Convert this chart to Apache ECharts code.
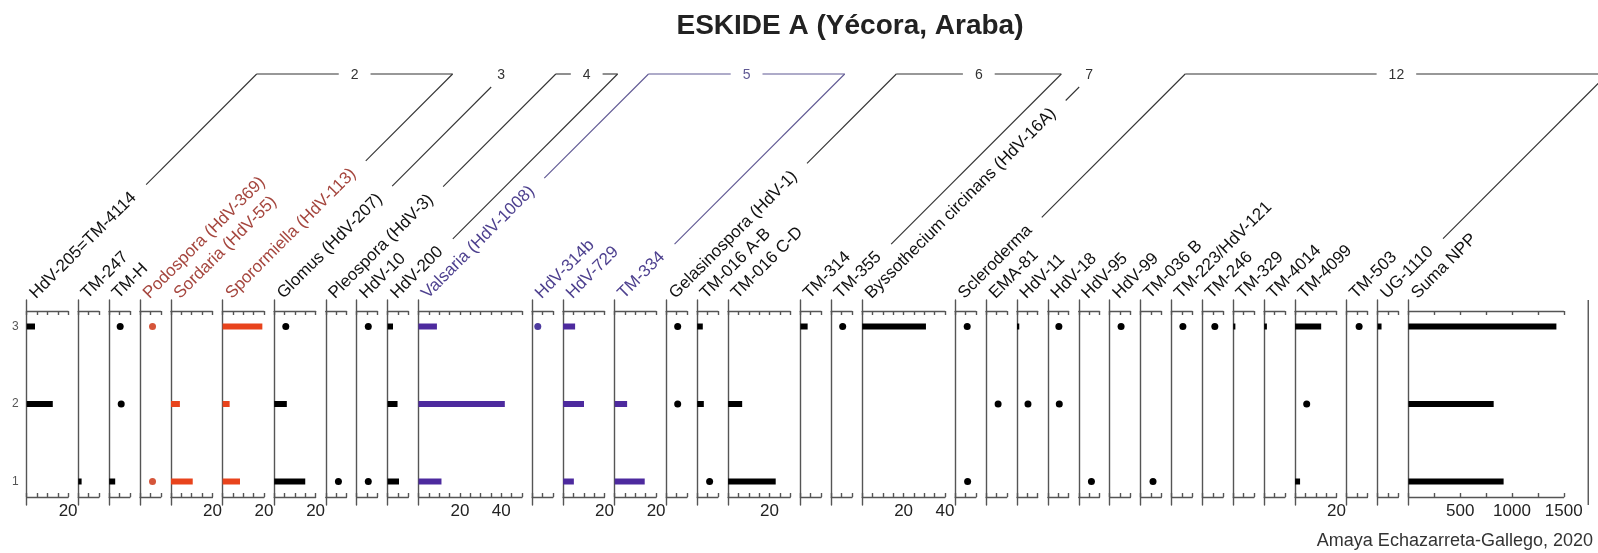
<!DOCTYPE html>
<html>
<head>
<meta charset="utf-8">
<title>ESKIDE A</title>
<script src="https://cdn.jsdelivr.net/npm/echarts@6/dist/echarts.min.js"></script>
<style>
html, body { margin: 0; padding: 0; background: #fff; }
#main { width: 1598px; height: 553px; }
</style>
</head>
<body>
<div id="main"></div>
<script>
// tipos (columnas del diagrama)
var taxa = ['HdV-205=TM-4114', 'TM-247', 'TM-H', 'Podospora (HdV-369)', 'Sordaria (HdV-55)',
    'Sporormiella (HdV-113)', 'Glomus (HdV-207)', 'Pleospora (HdV-3)', 'HdV-10', 'HdV-200',
    'Valsaria (HdV-1008)', 'HdV-314b', 'HdV-729', 'TM-334', 'Gelasinospora (HdV-1)',
    'TM-016 A-B', 'TM-016 C-D', 'TM-314', 'TM-355', 'Byssothecium circinans (HdV-16A)',
    'Scleroderma', 'EMA-81', 'HdV-11', 'HdV-18', 'HdV-95',
    'HdV-99', 'TM-036 B', 'TM-223/HdV-121', 'TM-246', 'TM-329',
    'TM-4014', 'TM-4099', 'TM-503', 'UG-1110', 'Suma NPP'];
// maximo de cada eje
var axisMax = [20, 10, 10, 10, 20,
    20, 20, 10, 10, 10,
    50, 10, 20, 20, 10,
    10, 30, 10, 10, 40,
    10, 10, 10, 10, 10,
    10, 10, 10, 10, 10,
    10, 20, 10, 10, 1500];
var samples = [1, 2, 3];
// barras por muestra (null = sin barra)
var bars1 = [null, 1.6, 2.9, null, 10.5,
    8.4, 15, null, null, 5.5,
    11.1, null, 5.2, 14.5, null,
    null, 23, null, null, null,
    null, null, null, null, null,
    null, null, null, null, null,
    null, 2.4, null, null, 919];
var bars2 = [12.6, null, null, null, 4.3,
    3.4, 6.1, null, null, 4.8,
    41.7, null, 10.1, 6, null,
    3.2, 6.8, null, null, null,
    null, null, null, null, null,
    null, null, null, null, null,
    null, null, null, null, 823];
var bars3 = [4, null, null, null, null,
    19.2, null, null, null, 2.6,
    8.9, null, 5.8, null, null,
    2.7, null, 3.5, null, 30.8,
    null, null, 1.1, null, null,
    null, null, null, null, 1,
    1.3, 12.6, null, 1.9, 1429];
// puntos por muestra
var dots1 = [null, null, null, 6, null,
    null, null, 6.1, 5.6, null,
    null, null, null, null, null,
    6, null, null, null, null,
    6, null, null, null, 6.1,
    null, 6, null, null, null,
    null, null, null, null, null];
var dots2 = [null, null, 5.8, null, null,
    null, null, null, null, null,
    null, null, null, null, 5.5,
    null, null, null, null, null,
    null, 5.8, 5.3, 5.5, null,
    null, null, null, null, null,
    null, 5.6, null, null, null];
var dots3 = [null, null, 5.3, 6, null,
    null, 5.6, null, 5.6, null,
    null, 2.7, null, null, 5.5,
    null, null, null, 5.5, null,
    5.8, null, null, 5.3, null,
    5.5, null, 5.5, 6, null,
    null, null, 6, null, null];
// grupos: [numero, primer tipo, ultimo tipo]
var groups = [['2', 0, 5], ['3', 6, 6], ['4', 7, 9], ['5', 10, 13], ['6', 14, 18], ['7', 19, 19], ['12', 20, 33]];

// colores
var tone = ['k', 'k', 'k', 'r', 'r', 'r', 'k', 'k', 'k', 'k', 'p', 'p', 'p', 'p', 'k', 'k', 'k', 'k', 'k', 'k',
    'k', 'k', 'k', 'k', 'k', 'k', 'k', 'k', 'k', 'k', 'k', 'k', 'k', 'k', 'k'];
var barColor = {k: '#000000', r: '#e8431c', p: '#4d2a9e'};
var dotColor = {k: '#000000', r: '#d5553a', p: '#4d3a9e'};
var textColor = {k: '#111111', r: '#a5463e', p: '#4e418f'};
var FONT = '"Liberation Sans", Arial, sans-serif';

// disposicion
var X0 = 26.7, PX = 2.07, GAP = 10.2, TOP = 300, H = 205;
var Y_MIN = 0.8 - 8 / 77.5, Y_MAX = 3.2 + 11 / 77.5;
var lefts = [], widths = [];
var xx = X0;
for (var i = 0; i < taxa.length; i++) {
    var w = axisMax[i] * (i === taxa.length - 1 ? PX / 20 : PX);
    lefts.push(xx);
    widths.push(w);
    xx += w + GAP;
}

var lineStyle = {color: '#555', width: 1.4};

function labelFmt(step) {
    return function (v) {
        return (v !== 0 && v % step === 0) ? String(v) : '';
    };
}

function drawBar(params, api) {
    var p0 = api.coord([0, api.value(1)]);
    var p1 = api.coord([api.value(0), api.value(1)]);
    return {
        type: 'rect',
        shape: {x: p0[0], y: p0[1] - 3, width: p1[0] - p0[0], height: 6},
        style: {fill: api.visual('color')}
    };
}

var grid = [], xAxis = [], yAxis = [], series = [];
var rowBars = [bars1, bars2, bars3], rowDots = [dots1, dots2, dots3];
for (var i = 0; i < taxa.length; i++) {
    var big = axisMax[i] > 100;
    grid.push({left: lefts[i], top: TOP, width: widths[i], height: H, containLabel: false, outerBoundsMode: 'none'});
    xAxis.push({
        gridIndex: i, type: 'value', position: 'bottom', offset: -8,
        min: 0, max: axisMax[i], interval: big ? 250 : 5,
        axisLine: {show: true, onZero: false, lineStyle: lineStyle},
        axisTick: {show: true, inside: true, length: 4, lineStyle: lineStyle},
        axisLabel: {show: true, margin: 6, fontSize: 17, color: '#222', fontFamily: FONT, formatter: labelFmt(big ? 500 : 20)},
        splitLine: {show: false}
    });
    xAxis.push({
        gridIndex: i, type: 'value', position: 'top', offset: -11,
        min: 0, max: axisMax[i], interval: big ? 250 : 5,
        axisLine: {show: true, onZero: false, lineStyle: lineStyle},
        axisTick: {show: true, inside: true, length: 4, lineStyle: lineStyle},
        axisLabel: {show: false},
        splitLine: {show: false}
    });
    yAxis.push({
        gridIndex: i, type: 'value', min: Y_MIN, max: Y_MAX,
        axisLine: {show: true, onZero: false, lineStyle: lineStyle},
        axisTick: {show: false},
        axisLabel: i === 0 ? {show: true, customValues: samples, margin: 8, fontSize: 12, color: '#555', fontFamily: FONT} : {show: false},
        splitLine: {show: false}
    });
    var bd = [], dd = [];
    for (var r = 0; r < samples.length; r++) {
        if (rowBars[r][i] != null) bd.push([rowBars[r][i], samples[r]]);
        if (rowDots[r][i] != null) dd.push([rowDots[r][i], samples[r]]);
    }
    if (bd.length) {
        series.push({
            type: 'custom', xAxisIndex: 2 * i, yAxisIndex: i, renderItem: drawBar,
            encode: {x: 0, y: 1}, data: bd, clip: false,
            itemStyle: {color: barColor[tone[i]]}
        });
    }
    if (dd.length) {
        series.push({
            type: 'scatter', xAxisIndex: 2 * i, yAxisIndex: i, data: dd, symbolSize: 7,
            itemStyle: {color: dotColor[tone[i]], opacity: 1}
        });
    }
}

// rotulos inclinados y lineas de grupo
var ctx = document.createElement('canvas').getContext('2d');
ctx.font = '17px ' + FONT;
var C = Math.SQRT1_2, LINE_Y = 74;
var gfx = [];
var ends = [];
for (var i = 0; i < taxa.length; i++) {
    gfx.push({
        type: 'text', x: lefts[i] + 12, y: 302, rotation: Math.PI / 4, silent: true,
        style: {text: taxa[i], fill: textColor[tone[i]], fontSize: 17, fontFamily: FONT, align: 'left', verticalAlign: 'bottom'}
    });
    // arranque de la linea de grupo, al final del rotulo
    var len = ctx.measureText(taxa[i]).width + 19;
    ends.push([lefts[i] + 5 + len * C, 299 - len * C]);
}

function seg(x1, y1, x2, y2, col) {
    return {type: 'line', silent: true, shape: {x1: x1, y1: y1, x2: x2, y2: y2}, style: {stroke: col, lineWidth: 1.1}};
}

groups.forEach(function (g) {
    var col = g[0] === '5' ? '#5f5893' : '#333';
    var a = ends[g[1]], b = ends[g[2]];
    if (g[1] === g[2]) {
        var ty = 87, tx = a[0] + (a[1] - ty);
        gfx.push(seg(a[0], a[1], tx, ty, col));
        gfx.push({type: 'text', x: tx + 10, y: LINE_Y + 1, silent: true,
            style: {text: g[0], fill: col, fontSize: 14, fontFamily: FONT, align: 'center', verticalAlign: 'middle'}});
        return;
    }
    var ax = a[0] + (a[1] - LINE_Y), bx = b[0] + (b[1] - LINE_Y);
    var mid = (ax + bx) / 2, half = ctx.measureText(g[0]).width * 14 / 17 / 2 + 12;
    gfx.push(seg(a[0], a[1], ax, LINE_Y, col));
    gfx.push(seg(ax, LINE_Y, mid - half, LINE_Y, col));
    gfx.push(seg(mid + half, LINE_Y, bx, LINE_Y, col));
    gfx.push(seg(bx, LINE_Y, b[0], b[1], col));
    gfx.push({type: 'text', x: mid, y: LINE_Y + 1, silent: true,
        style: {text: g[0], fill: col, fontSize: 14, fontFamily: FONT, align: 'center', verticalAlign: 'middle'}});
});

// linea vertical final
var last = taxa.length - 1;
var fx = lefts[last] + widths[last] + 24.5;
gfx.push({type: 'line', silent: true, shape: {x1: fx, y1: TOP, x2: fx, y2: TOP + H}, style: {stroke: '#555', lineWidth: 1.4}});

gfx.push({type: 'text', x: 850, y: 26, silent: true,
    style: {text: 'ESKIDE A (Yécora, Araba)', fill: '#222', fontSize: 28, fontWeight: 'bold', fontFamily: FONT, align: 'center', verticalAlign: 'middle'}});
gfx.push({type: 'text', x: 1593, y: 541, silent: true,
    style: {text: 'Amaya Echazarreta-Gallego, 2020', fill: '#333', fontSize: 18, fontFamily: FONT, align: 'right', verticalAlign: 'middle'}});

var myChart = echarts.init(document.getElementById('main'));
var option = {
    animation: false,
    backgroundColor: '#fff',
    grid: grid,
    xAxis: xAxis,
    yAxis: yAxis,
    series: series,
    graphic: gfx
};
myChart.setOption(option);
</script>
</body>
</html>
